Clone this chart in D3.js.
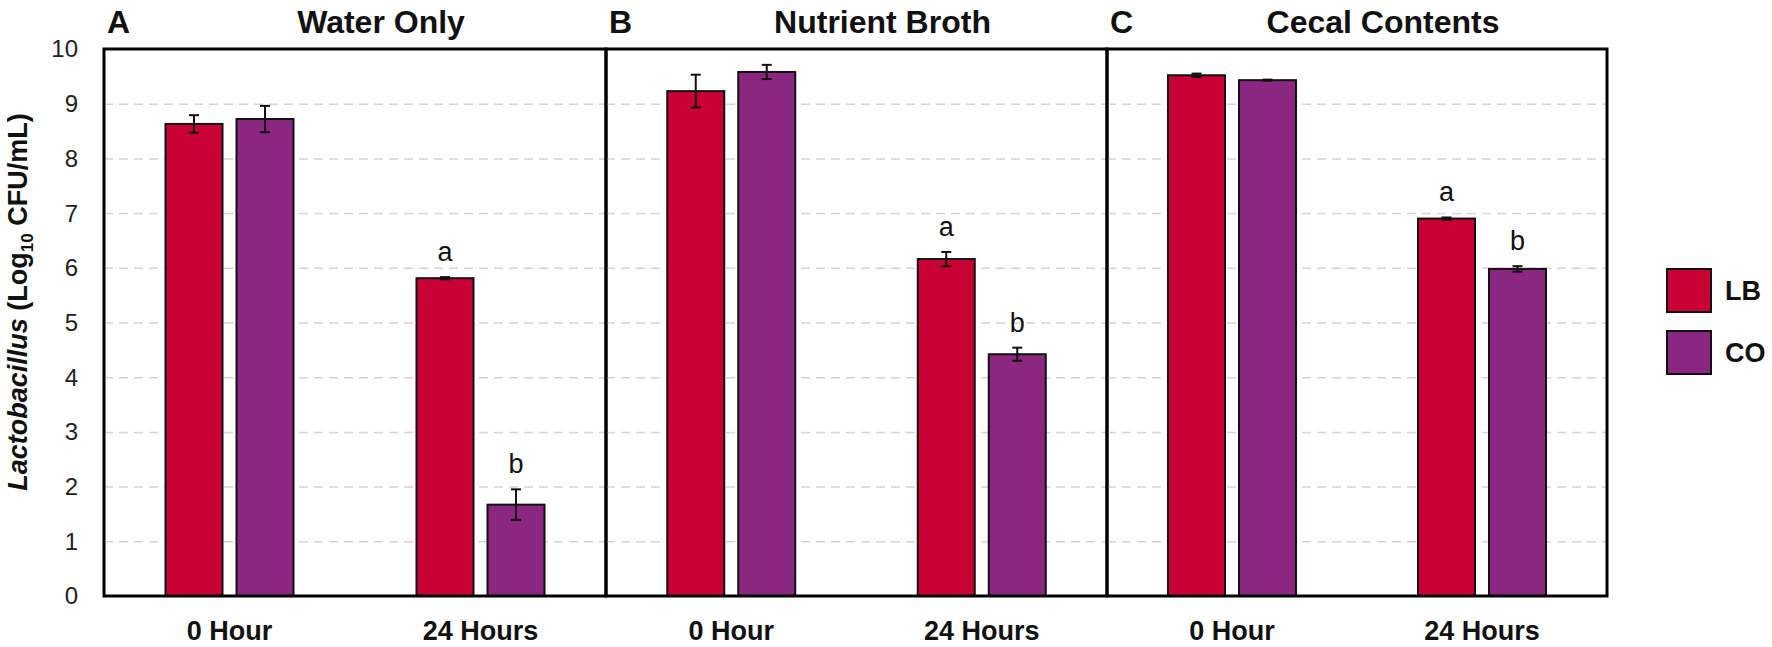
<!DOCTYPE html>
<html>
<head>
<meta charset="utf-8">
<script src="https://cdn.jsdelivr.net/npm/d3@7"></script>
<style>
  html, body { margin: 0; padding: 0; background: #fff; }
  svg { display: block; }
  text { font-family: "Liberation Sans", Arial, Helvetica, sans-serif; }
</style>
</head>
<body>
<svg id="chart" width="1772" height="647"></svg>
<script>
// ---- data ----
const panelLetters = ["A", "B", "C"];
const panelTitles = ["Water Only", "Nutrient Broth", "Cecal Contents"];
const timePoints = ["0 Hour", "24 Hours"];
const seriesNames = ["LB", "CO"];
const seriesColors = ["#c80034", "#8b2780"];
// values per panel: [0 Hour, 24 Hours]
const lbMeans = [[8.63, 5.81], [9.23, 6.16], [9.52, 6.90]];
const lbErrors = [[0.16, 0.02], [0.30, 0.13], [0.03, 0.02]];
const coMeans = [[8.72, 1.67], [9.58, 4.42], [9.43, 5.98]];
const coErrors = [[0.24, 0.28], [0.13, 0.12], [0.01, 0.05]];
const lbLetters = [["", "a"], ["", "a"], ["", "a"]];
const coLetters = [["", "b"], ["", "b"], ["", "b"]];
const yTicks = [0, 1, 2, 3, 4, 5, 6, 7, 8, 9, 10];

// ---- layout ----
const svg = d3.select("#chart");
const y = d3.scaleLinear().domain([0, 10]).range([596, 49]);
const panelEdges = [[104, 606], [606, 1107], [1107, 1607]];
const barW = 57, barOff = 35.5;
const font = "'Liberation Sans', Arial, sans-serif";

// y tick labels
svg.append("g").selectAll("text").data(yTicks).join("text")
  .attr("x", 78).attr("y", d => y(d)).attr("dy", "0.35em")
  .attr("text-anchor", "end").attr("font-size", 24).attr("fill", "#222")
  .text(d => d);

// y axis title
const yt = svg.append("text")
  .attr("transform", "translate(27,302) rotate(-90)")
  .attr("text-anchor", "middle").attr("font-size", 27).attr("font-weight", "bold").attr("fill", "#111");
yt.append("tspan").attr("font-style", "italic").text("Lactobacillus");
yt.append("tspan").text(" (Log");
yt.append("tspan").attr("font-size", 17).attr("dy", 6).text("10");
yt.append("tspan").attr("dy", -6).text(" CFU/mL)");

panelEdges.forEach((edge, p) => {
  const g = svg.append("g");
  const x = d3.scalePoint().domain(timePoints).range(edge).padding(0.5);
  const yGrid = d3.axisLeft(y).tickValues(yTicks.filter(t => t > 0 && t < 10))
    .tickSize(-(edge[1] - edge[0])).tickFormat("");
  const gg = g.append("g").attr("transform", `translate(${edge[0]},0)`).call(yGrid);
  gg.select(".domain").remove();
  gg.selectAll(".tick line").attr("stroke", "#d4d4d4").attr("stroke-width", 1.5)
    .attr("stroke-dasharray", "9,6");

  const rows = timePoints.map((t, i) => [
    { s: 0, t, m: lbMeans[p][i], e: lbErrors[p][i], l: lbLetters[p][i] },
    { s: 1, t, m: coMeans[p][i], e: coErrors[p][i], l: coLetters[p][i] }
  ]).flat();
  const cx = d => x(d.t) + (d.s === 0 ? -barOff : barOff);

  g.selectAll("rect.bar").data(rows).join("rect").attr("class", "bar")
    .attr("x", d => cx(d) - barW / 2).attr("width", barW)
    .attr("y", d => y(d.m)).attr("height", d => y(0) - y(d.m))
    .attr("fill", d => seriesColors[d.s]).attr("stroke", "#111").attr("stroke-width", 2);

  const eb = g.selectAll("g.err").data(rows).join("g").attr("class", "err")
    .attr("stroke", "#111").attr("stroke-width", 2);
  eb.append("line").attr("x1", cx).attr("x2", cx)
    .attr("y1", d => y(d.m + d.e)).attr("y2", d => y(d.m - d.e));
  eb.append("line").attr("x1", d => cx(d) - 5).attr("x2", d => cx(d) + 5)
    .attr("y1", d => y(d.m + d.e)).attr("y2", d => y(d.m + d.e));
  eb.append("line").attr("x1", d => cx(d) - 5).attr("x2", d => cx(d) + 5)
    .attr("y1", d => y(d.m - d.e)).attr("y2", d => y(d.m - d.e));

  g.selectAll("text.sig").data(rows.filter(d => d.l)).join("text").attr("class", "sig")
    .attr("x", cx).attr("y", d => y(d.m + d.e) - 16)
    .attr("text-anchor", "middle").attr("font-size", 27).attr("fill", "#111")
    .text(d => d.l);

  // frame
  g.append("rect").attr("x", edge[0]).attr("y", y(10))
    .attr("width", edge[1] - edge[0]).attr("height", y(0) - y(10))
    .attr("fill", "none").attr("stroke", "#000").attr("stroke-width", 3);

  // x labels
  g.selectAll("text.xl").data(timePoints).join("text").attr("class", "xl")
    .attr("x", d => x(d)).attr("y", 640).attr("text-anchor", "middle")
    .attr("font-size", 27).attr("font-weight", "bold").attr("fill", "#111").text(d => d);

  // panel letter and title
  g.append("text").attr("x", edge[0] + 3).attr("y", 33)
    .attr("font-size", 32).attr("font-weight", "bold").attr("fill", "#111").text(panelLetters[p]);
  g.append("text").attr("x", (edge[0] + edge[1]) / 2 + 26).attr("y", 33)
    .attr("text-anchor", "middle").attr("font-size", 32).attr("font-weight", "bold")
    .attr("fill", "#111").text(panelTitles[p]);
});

// legend
const leg = svg.append("g").selectAll("g").data(seriesNames).join("g")
  .attr("transform", (d, i) => `translate(1667,${269 + i * 62})`);
leg.append("rect").attr("width", 44).attr("height", 43)
  .attr("fill", (d, i) => seriesColors[i]).attr("stroke", "#111").attr("stroke-width", 2);
leg.append("text").attr("x", 58).attr("y", 21.5).attr("dy", "0.35em")
  .attr("font-size", 27).attr("font-weight", "bold").attr("fill", "#111").text(d => d);
</script>
</body>
</html>
